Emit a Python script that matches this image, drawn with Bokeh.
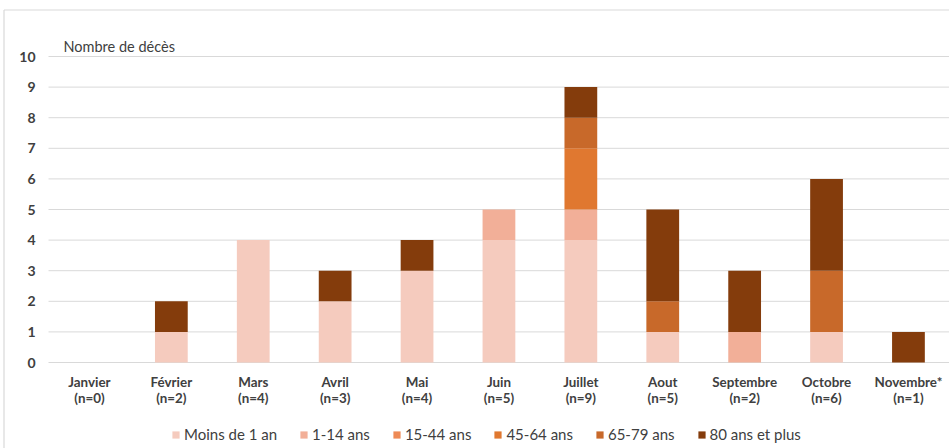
from bokeh.plotting import figure
from bokeh.models import ColumnDataSource, Label, Legend, LegendItem, Range1d
from bokeh.core.properties import value
from bokeh.embed import file_html
from bokeh.resources import INLINE

months = ["Janvier", "Février", "Mars", "Avril", "Mai", "Juin", "Juillet",
          "Aout", "Septembre", "Octobre", "Novembre*"]
totals_n = [0, 2, 4, 3, 4, 5, 9, 5, 2, 6, 1]
groups = ["Moins de 1 an", "1-14 ans", "15-44 ans", "45-64 ans", "65-79 ans", "80 ans et plus"]
moins_1 = [0, 1, 4, 2, 3, 4, 4, 1, 0, 1, 0]
a1_14 = [0, 0, 0, 0, 0, 1, 1, 0, 1, 0, 0]
a15_44 = [0, 0, 0, 0, 0, 0, 0, 0, 0, 0, 0]
a45_64 = [0, 0, 0, 0, 0, 0, 2, 0, 0, 0, 0]
a65_79 = [0, 0, 0, 0, 0, 0, 1, 1, 0, 2, 0]
a80_plus = [0, 1, 0, 1, 1, 0, 1, 3, 2, 3, 1]
y_ticks = [0, 1, 2, 3, 4, 5, 6, 7, 8, 9, 10]
colors = ["#F5CBBE", "#F2AF98", "#EE8A55", "#E07830", "#C8692A", "#843C0C"]

# pixel geometry of the canvas (949 x 448)
W, H = 949, 448
LEFT_PX, ZERO_PX = 48, 362
XU = 81.9      # px per category
YU = 30.6      # px per death

def xd(px):
    return (px - LEFT_PX) / XU

def yd(px):
    return (ZERO_PX - px) / YU

n_labels = [f"(n={n})" for n in totals_n]
xpos = [i + 0.5 for i in range(len(months))]
keys = ["g0", "g1", "g2", "g3", "g4", "g5"]
src = ColumnDataSource(dict(x=xpos, month=months, nlab=n_labels,
                            g0=moins_1, g1=a1_14, g2=a15_44,
                            g3=a45_64, g4=a65_79, g5=a80_plus,
                            ylab1=[yd(381)] * len(months),
                            ylab2=[yd(397)] * len(months)))

FONT = "Lato"
TXT = "#404040"
p = figure(x_range=Range1d(xd(0), xd(W)), y_range=Range1d(yd(H), yd(0)),
           width=W, height=H, output_backend="svg", toolbar_location=None,
           min_border=0)
p.outline_line_color = None
p.background_fill_color = "white"
p.border_fill_color = "white"
p.xaxis.visible = False
p.yaxis.visible = False
p.xgrid.grid_line_color = None
p.ygrid.grid_line_color = None

# horizontal gridlines at tick values, from plot left edge to the right edge
gsrc = ColumnDataSource(dict(y=y_ticks, x0=[0] * len(y_ticks),
                             x1=[xd(W)] * len(y_ticks),
                             lx=[xd(35)] * len(y_ticks),
                             lab=[str(t) for t in y_ticks]))
p.segment(x0="x0", y0="y", x1="x1", y1="y", source=gsrc,
          line_color="#D9D9D9", line_width=1)
p.text(x="lx", y="y", text="lab", source=gsrc, text_font=value(FONT),
       text_font_size="14px", text_font_style="bold", text_color=TXT,
       text_align="right", text_baseline="middle")

# outer chart frame (top and left edges)
p.segment(x0=[xd(3.5), xd(3.5)], y0=[yd(9.5), yd(9.5)],
          x1=[xd(W), xd(3.5)], y1=[yd(9.5), yd(H)],
          line_color="#D9D9D9", line_width=1.2)

renderers = p.vbar_stack(keys, x="x", width=0.4, source=src, color=colors,
                         line_color=None)

p.text(x="x", y="ylab1", text="month", source=src, text_font=value(FONT),
       text_font_size="13.4px", text_font_style="bold", text_color=TXT,
       text_align="center", text_baseline="middle")
p.text(x="x", y="ylab2", text="nlab", source=src, text_font=value(FONT),
       text_font_size="13.4px", text_font_style="bold", text_color=TXT,
       text_align="center", text_baseline="middle")

p.add_layout(Label(x=xd(63), y=yd(46), text="Nombre de décès",
                   text_font=FONT, text_font_size="14.5px", text_color=TXT,
                   text_baseline="middle"))

items = [LegendItem(label=g, renderers=[r]) for g, r in zip(groups, renderers)]
legend = Legend(items=items, orientation="horizontal", location=(171, 5),
                label_text_font=FONT, label_text_font_size="15px",
                label_text_color=TXT, glyph_width=9, glyph_height=9,
                spacing=22, label_standoff=4, border_line_color=None,
                background_fill_alpha=0, margin=0, padding=4)
p.add_layout(legend, "center")

open("out.html", "w").write(file_html(p, INLINE))
